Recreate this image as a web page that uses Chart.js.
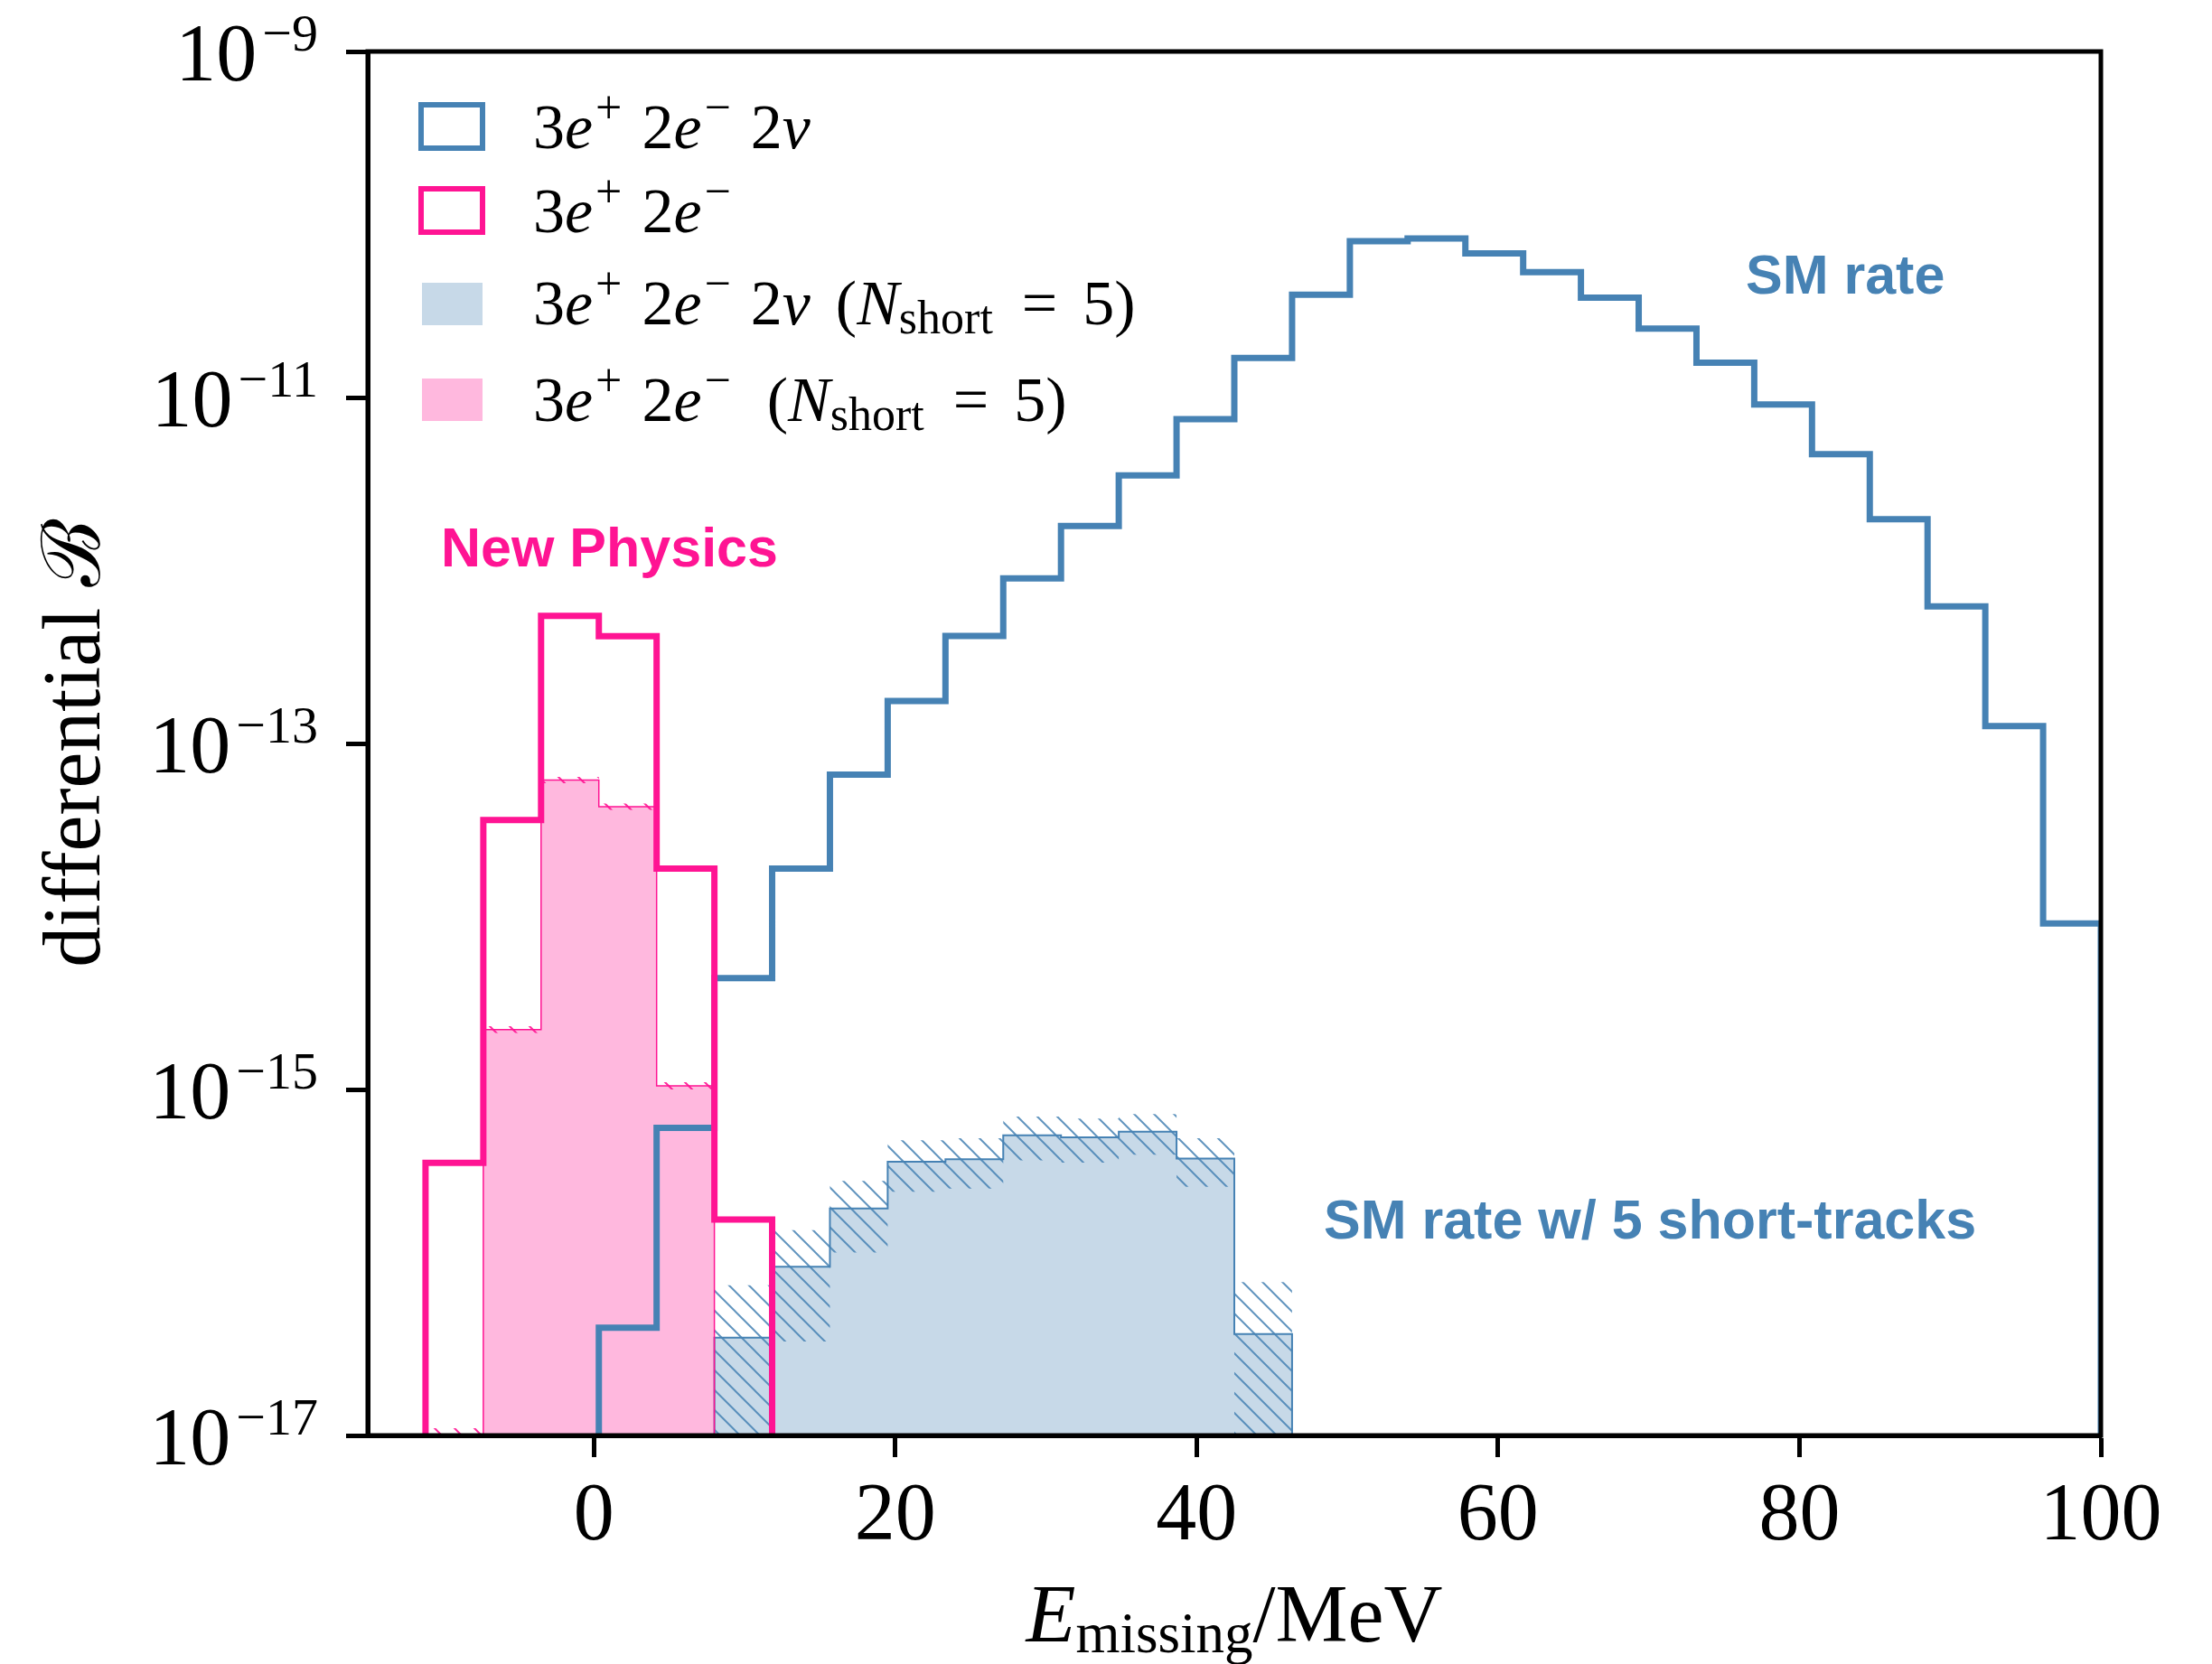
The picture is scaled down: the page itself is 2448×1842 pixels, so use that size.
<!DOCTYPE html>
<html>
<head>
<meta charset="utf-8">
<script src="https://cdn.jsdelivr.net/npm/chart.js@4.4.1/dist/chart.umd.min.js"></script>
<style>
  html, body { margin: 0; padding: 0; background: #ffffff; }
  canvas { display: block; }
</style>
</head>
<body>
<canvas id="c" width="2448" height="1842" style="width:2448px;height:1842px"></canvas>
<script>
// Histogram bin edges in MeV (30 bins from -15 to 100)
const binEdges = [-15, -11.167, -7.333, -3.5, 0.333, 4.167, 8.0, 11.833, 15.667, 19.5,
  23.333, 27.167, 31.0, 34.833, 38.667, 42.5, 46.333, 50.167, 54.0, 57.833,
  61.667, 65.5, 69.333, 73.167, 77.0, 80.833, 84.667, 88.5, 92.333, 96.167, 100];

// SM: 3e+ 2e- 2nu, differential branching per bin
const smRate = [null, null, null, null, 4.2e-17, 6.0e-16, 4.4e-15, 1.89e-14, 6.6e-14, 1.76e-13,
  4.18e-13, 9.0e-13, 1.81e-12, 3.55e-12, 7.5e-12, 1.69e-11, 3.93e-11, 8.0e-11, 8.3e-11, 6.8e-11,
  5.3e-11, 3.78e-11, 2.5e-11, 1.59e-11, 9.1e-12, 4.7e-12, 1.98e-12, 6.2e-13, 1.26e-13, 9.1e-15];

// New physics: 3e+ 2e-
const npRate = [null, 3.77e-16, 3.61e-14, 5.47e-13, 4.17e-13, 1.89e-14, 1.77e-16, null, null, null,
  null, null, null, null, null, null, null, null, null, null,
  null, null, null, null, null, null, null, null, null, null];

// SM with 5 short tracks, and its uncertainty
const smShort = [null, null, null, null, null, null, 3.68e-17, 9.44e-17, 2.05e-16, 3.82e-16,
  3.95e-16, 5.43e-16, 5.28e-16, 5.70e-16, 3.98e-16, 3.86e-17, null, null, null, null,
  null, null, null, null, null, null, null, null, null, null];
const smShortErr = [null, null, null, null, null, null, 3.7e-17, 5.95e-17, 9.1e-17, 1.26e-16,
  1.28e-16, 1.54e-16, 1.5e-16, 1.5e-16, 1.24e-16, 3.83e-17, null, null, null, null,
  null, null, null, null, null, null, null, null, null, null];

// New physics with 5 short tracks, and its uncertainty
const npShort = [null, 8.0e-18, 2.22e-15, 6.15e-14, 4.31e-14, 1.05e-15, null, null, null, null,
  null, null, null, null, null, null, null, null, null, null,
  null, null, null, null, null, null, null, null, null, null];
const npShortErr = [null, 3.0e-18, 1.0e-16, 2.5e-15, 1.8e-15, 5.0e-17, null, null, null, null,
  null, null, null, null, null, null, null, null, null, null,
  null, null, null, null, null, null, null, null, null, null];

// Axis ticks
const xTickValues = [0, 20, 40, 60, 80, 100];
const xTickLabels = ['0', '20', '40', '60', '80', '100'];
const yTickPowers = [-17, -15, -13, -11, -9];

const STEEL = '#4682b4';
const PINK = '#ff1493';
const FLOOR = 1e-21;

// Closed step outline of a histogram (drops to the floor at both ends)
function histPoints(values) {
  const pts = [];
  let i = 0;
  while (i < values.length) {
    if (values[i] == null) { i++; continue; }
    let j = i;
    pts.push({ x: binEdges[i], y: FLOOR });
    while (j < values.length && values[j] != null) {
      pts.push({ x: binEdges[j], y: values[j] });
      j++;
    }
    pts.push({ x: binEdges[j], y: values[j - 1] });
    pts.push({ x: binEdges[j], y: FLOOR });
    i = j;
  }
  return pts;
}

// Upper or lower edge of an uncertainty band
function bandPoints(values, errs, sign) {
  const pts = [];
  let last = null, lastIdx = -1;
  values.forEach((v, i) => {
    if (v == null) return;
    let y = v + sign * errs[i];
    if (y <= 0) y = FLOOR;
    pts.push({ x: binEdges[i], y });
    last = y; lastIdx = i;
  });
  if (lastIdx >= 0) pts.push({ x: binEdges[lastIdx + 1], y: last });
  return pts;
}

function hatch(color, lw) {
  const s = 22;
  const c = document.createElement('canvas');
  c.width = s; c.height = s;
  const g = c.getContext('2d');
  g.strokeStyle = color;
  g.lineWidth = lw;
  g.beginPath();
  for (const k of [-s, 0, s]) {
    g.moveTo(k - 3, -3);
    g.lineTo(k + s + 3, s + 3);
  }
  g.stroke();
  return g.createPattern(c, 'repeat');
}

const blueHatch = hatch('rgba(70,130,180,0.85)', 2);
const pinkHatch = hatch('rgba(255,20,147,0.9)', 2);

const datasets = [
  { // 0: new physics outline
    data: histPoints(npRate), borderColor: PINK, borderWidth: 7, stepped: true,
    fill: false, order: 1, clip: 0
  },
  { // 1: SM outline
    data: histPoints(smRate), borderColor: STEEL, borderWidth: 7, stepped: true,
    fill: false, order: 2, clip: 0
  },
  { // 2: new physics short-track band, lower edge
    data: bandPoints(npShort, npShortErr, -1), borderColor: 'transparent', borderWidth: 0,
    stepped: true, fill: false, order: 4, clip: 0
  },
  { // 3: new physics short-track band, upper edge
    data: bandPoints(npShort, npShortErr, 1), borderColor: 'transparent', borderWidth: 0,
    stepped: true, fill: { target: 2 }, backgroundColor: pinkHatch, order: 3, clip: 0
  },
  { // 4: new physics short-track histogram
    data: histPoints(npShort), borderColor: PINK, borderWidth: 1.5, stepped: true,
    fill: 'start', backgroundColor: 'rgba(255,20,147,0.3)', order: 5, clip: 0
  },
  { // 5: SM short-track band, lower edge
    data: bandPoints(smShort, smShortErr, -1), borderColor: 'transparent', borderWidth: 0,
    stepped: true, fill: false, order: 7, clip: 0
  },
  { // 6: SM short-track band, upper edge
    data: bandPoints(smShort, smShortErr, 1), borderColor: 'transparent', borderWidth: 0,
    stepped: true, fill: { target: 5 }, backgroundColor: blueHatch, order: 6, clip: 0
  },
  { // 7: SM short-track histogram
    data: histPoints(smShort), borderColor: STEEL, borderWidth: 2, stepped: true,
    fill: 'start', backgroundColor: 'rgba(70,130,180,0.3)', order: 8, clip: 0
  }
];

const SERIF = '"Liberation Serif", "DejaVu Serif", serif';

// Rich text: [text, style] with style rm | it | sup | sub | gap(width)
function drawRich(ctx, x, base, segs, main, script) {
  for (const [t, st] of segs) {
    if (st === 'gap') { x += t; continue; }
    let font, dy = 0;
    if (st === 'rm') font = main + 'px ' + SERIF;
    else if (st === 'it') font = 'italic ' + main + 'px ' + SERIF;
    else if (st === 'sup') { font = script + 'px ' + SERIF; dy = -28; x += 3; }
    else if (st === 'sub') { font = script + 'px ' + SERIF; dy = 10; }
    ctx.font = font;
    ctx.fillText(t, x, base + dy);
    x += ctx.measureText(t).width;
  }
  return x;
}
function richWidth(ctx, segs, main, script) {
  let w = 0;
  for (const [t, st] of segs) {
    if (st === 'gap') { w += t; continue; }
    if (st === 'rm') ctx.font = main + 'px ' + SERIF;
    else if (st === 'it') ctx.font = 'italic ' + main + 'px ' + SERIF;
    else ctx.font = script + 'px ' + SERIF;
    w += ctx.measureText(t).width;
  }
  return w;
}

const labSM = [['3', 'rm'], ['e', 'it'], ['+', 'sup'], [22, 'gap'], ['2', 'rm'], ['e', 'it'], ['\u2212', 'sup'], [22, 'gap'], ['2', 'rm'], ['\u03bd', 'it']];
const labNP = [['3', 'rm'], ['e', 'it'], ['+', 'sup'], [22, 'gap'], ['2', 'rm'], ['e', 'it'], ['\u2212', 'sup']];
const labShort = [['(', 'rm'], ['N', 'it'], ['short', 'sub'], [32, 'gap'], ['=', 'rm'], [28, 'gap'], ['5', 'rm'], [')', 'rm']];

const legendRows = [
  { kind: 'outline', color: STEEL, y: 140, base: 164, segs: labSM },
  { kind: 'outline', color: PINK, y: 233, base: 257, segs: labNP },
  { kind: 'fill', color: 'rgba(70,130,180,0.3)', y: 336, base: 359, segs: labSM.concat([[28, 'gap']], labShort) },
  { kind: 'fill', color: 'rgba(255,20,147,0.3)', y: 442, base: 466, segs: labNP.concat([[40, 'gap']], labShort) }
];

function drawRichAxis(ctx, x, base, segs) {
  for (const [t, st] of segs) {
    let dy = 0;
    if (st === 'it') ctx.font = 'italic 90px ' + SERIF;
    else if (st === 'rm') ctx.font = '90px ' + SERIF;
    else { ctx.font = '63px ' + SERIF; dy = 12; }
    ctx.fillText(t, x, base + dy);
    x += ctx.measureText(t).width;
  }
}

const decor = {
  id: 'decor',
  afterDraw(chart) {
    const ctx = chart.ctx;
    const ca = chart.chartArea;
    const xs = chart.scales.x, ys = chart.scales.y;
    ctx.save();

    // frame
    ctx.strokeStyle = '#000';
    ctx.lineWidth = 5;
    ctx.strokeRect(ca.left, ca.top, ca.right - ca.left, ca.bottom - ca.top);

    ctx.fillStyle = '#000';
    ctx.textBaseline = 'alphabetic';

    // y tick labels 10^n
    yTickPowers.forEach(p => {
      const py = ys.getPixelForValue(Math.pow(10, p));
      const ex = '\u2212' + Math.abs(p);
      ctx.textAlign = 'right';
      ctx.font = '58px ' + SERIF;
      const ew = ctx.measureText(ex).width;
      ctx.fillText(ex, 352, py - 1);
      ctx.font = '90px ' + SERIF;
      ctx.fillText('10', 352 - ew - 6, py + 32);
    });

    // x tick labels
    ctx.textAlign = 'center';
    ctx.font = '90px ' + SERIF;
    xTickValues.forEach((v, i) => {
      ctx.fillText(xTickLabels[i], xs.getPixelForValue(v), 1704);
    });

    // x axis title
    ctx.textAlign = 'left';
    const xt = [['E', 'it'], ['missing', 'sub'], ['/MeV', 'rm']];
    const xw = richWidth(ctx, xt, 90, 63);
    const cx = (ca.left + ca.right) / 2;
    drawRichAxis(ctx, cx - xw / 2, 1817, xt);

    // y axis title
    ctx.save();
    ctx.translate(110, (ca.top + ca.bottom) / 2);
    ctx.rotate(-Math.PI / 2);
    ctx.textAlign = 'center';
    ctx.font = '90px ' + SERIF;
    ctx.fillText('differential \u212C', 0, 0);
    ctx.restore();

    // legend
    ctx.textAlign = 'left';
    legendRows.forEach(r => {
      if (r.kind === 'outline') {
        ctx.strokeStyle = r.color;
        ctx.lineWidth = 6;
        ctx.strokeRect(466, r.y - 24, 68, 48);
      } else {
        ctx.fillStyle = r.color;
        ctx.fillRect(467, r.y - 23, 67, 47);
      }
      ctx.fillStyle = '#000';
      drawRich(ctx, 590, r.base, r.segs, 70, 52);
    });

    // annotations
    ctx.font = 'bold 61px "Liberation Sans", Arial, sans-serif';
    ctx.fillStyle = STEEL;
    ctx.fillText('SM rate', 1932, 325);
    ctx.fillText('SM rate w/ 5 short-tracks', 1465, 1371);
    ctx.fillStyle = PINK;
    ctx.fillText('New Physics', 488, 627);

    ctx.restore();
  }
};

const tickGrid = {
  drawOnChartArea: false, drawTicks: true, tickLength: 24, tickWidth: 5,
  tickColor: '#000', color: '#000'
};

new Chart(document.getElementById('c'), {
  type: 'line',
  data: { datasets },
  options: {
    responsive: false,
    animation: false,
    devicePixelRatio: 1,
    layout: { padding: { top: 57, right: 123, left: 0, bottom: 0 } },
    plugins: { legend: { display: false }, tooltip: { enabled: false } },
    elements: { point: { radius: 0, hoverRadius: 0 }, line: { tension: 0 } },
    scales: {
      x: {
        type: 'linear', min: -15, max: 100,
        afterBuildTicks(s) { s.ticks = xTickValues.map(v => ({ value: v })); },
        afterFit(s) { s.height = 253; },
        ticks: { display: false },
        grid: tickGrid,
        border: { display: true, width: 5, color: '#000' }
      },
      y: {
        type: 'logarithmic', min: 1e-17, max: 1e-9,
        afterBuildTicks(s) { s.ticks = yTickPowers.map(p => ({ value: Math.pow(10, p) })); },
        afterFit(s) { s.width = 407; },
        ticks: { display: false },
        grid: tickGrid,
        border: { display: true, width: 5, color: '#000' }
      }
    }
  },
  plugins: [decor]
});
</script>
</body>
</html>
